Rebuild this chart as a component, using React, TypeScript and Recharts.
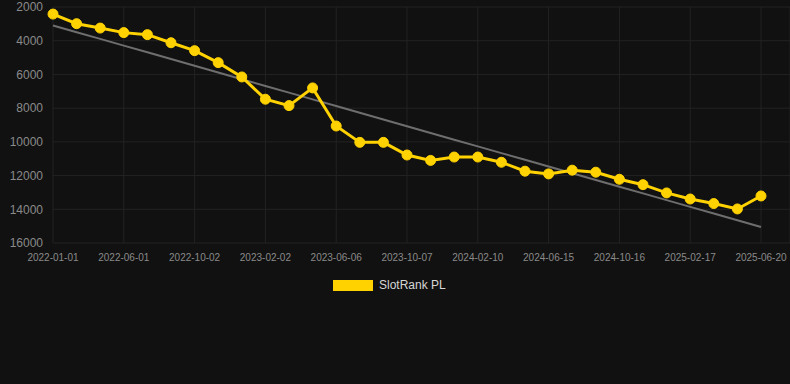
import { CartesianGrid, Line, LineChart, XAxis, YAxis } from 'recharts'

const dates = [
  '2022-01-01', '2022-02-20', '2022-04-11', '2022-06-01', '2022-07-12',
  '2022-08-22', '2022-10-02', '2022-11-12', '2022-12-23', '2023-02-02',
  '2023-03-15', '2023-04-26', '2023-06-06', '2023-07-17', '2023-08-27',
  '2023-10-07', '2023-11-18', '2023-12-30', '2024-02-10', '2024-03-22',
  '2024-05-04', '2024-06-15', '2024-07-26', '2024-09-05', '2024-10-16',
  '2024-11-27', '2025-01-07', '2025-02-17', '2025-03-31', '2025-05-10',
  '2025-06-20',
]

const rankPL = [
  2420, 2990, 3250, 3520, 3640, 4120, 4590, 5300, 6150, 7470, 7850, 6800,
  9060, 10030, 10030, 10780, 11100, 10900, 10900, 11210, 11740, 11900, 11680,
  11800, 12220, 12540, 13030, 13390, 13660, 13980, 13210,
]

const yTicks = [2000, 4000, 6000, 8000, 10000, 12000, 14000, 16000]

const LINE_COLOR = '#ffd200'
const BG = '#111111'

// least squares trend over the rank series
function trendOf(values: number[]): number[] {
  const n = values.length
  const mx = (n - 1) / 2
  const my = values.reduce((a, b) => a + b, 0) / n
  let num = 0
  let den = 0
  values.forEach((v, i) => {
    num += (i - mx) * (v - my)
    den += (i - mx) * (i - mx)
  })
  const slope = num / den
  return values.map((_, i) => my + slope * (i - mx))
}

const trend = trendOf(rankPL)

const data = dates.map((date, i) => ({
  date,
  rank: rankPL[i],
  trend: trend[i],
}))

export default function App() {
  return (
    <div
      style={{
        position: 'relative',
        width: 790,
        height: 384,
        background: BG,
        fontFamily: '"Liberation Sans", Arial, Helvetica, sans-serif',
      }}
    >
      <style>{'body { margin: 0; background: #111111; }'}</style>
      <LineChart
        width={790}
        height={270}
        data={data}
        margin={{ top: 7, right: 0, left: 0, bottom: 0 }}
      >
        <CartesianGrid stroke="#232323" strokeWidth={1} />
        <XAxis
          dataKey="date"
          interval={2}
          axisLine={false}
          tickLine={false}
          tickMargin={5}
          height={27}
          padding={{ left: 0, right: 29 }}
          tick={{ fontSize: 10, fill: '#8a8a8a' }}
        />
        <YAxis
          reversed
          domain={[2000, 16000]}
          ticks={yTicks}
          interval={0}
          width={53}
          axisLine={false}
          tickLine={false}
          tickMargin={4}
          tick={{ fontSize: 12, fill: '#8a8a8a' }}
        />
        <Line
          dataKey="trend"
          stroke="#6e6e6e"
          strokeWidth={2}
          dot={false}
          activeDot={false}
          isAnimationActive={false}
        />
        <Line
          dataKey="rank"
          stroke={LINE_COLOR}
          strokeWidth={3}
          dot={{ r: 5, fill: LINE_COLOR, stroke: LINE_COLOR, strokeWidth: 1 }}
          isAnimationActive={false}
        />
      </LineChart>
      <div
        style={{
          position: 'absolute',
          left: 333,
          top: 278,
          display: 'flex',
          alignItems: 'center',
          gap: 6,
        }}
      >
        <span style={{ width: 40, height: 11, background: LINE_COLOR, display: 'inline-block' }} />
        <span style={{ fontSize: 12, color: '#d6d6d6' }}>SlotRank PL</span>
      </div>
    </div>
  )
}
